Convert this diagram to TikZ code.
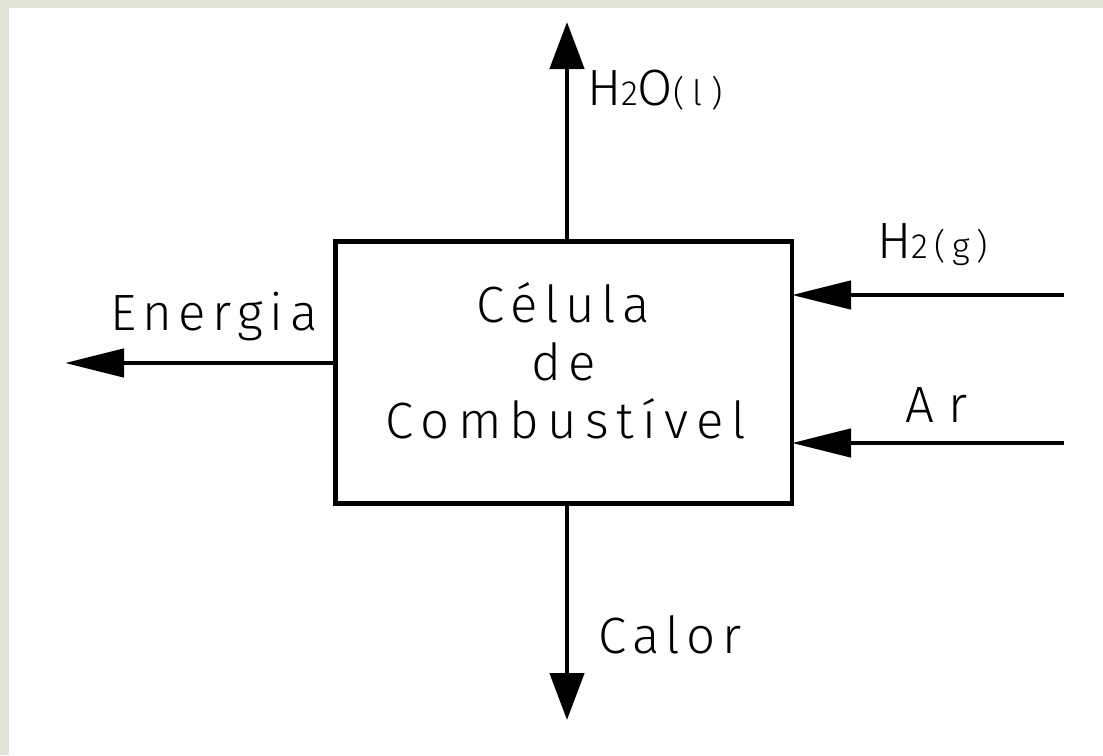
\documentclass[tikz,border=0pt]{standalone}
\usepackage{fontspec}
\setmainfont{Fira Sans Light}[LetterSpace=13]
\usetikzlibrary{arrows.meta}
\definecolor{framegrey}{HTML}{E2E3D7}
\newcommand{\lesser}[1]{{\fontsize{35}{35}\selectfont #1}}

\begin{document}
\begin{tikzpicture}[x=1pt,y=-1pt,
  flow/.style={line width=4.7pt,-{Triangle[length=59pt,width=28pt]}},
  vflow/.style={line width=4.7pt,-{Triangle[length=47pt,width=34pt]}},
  lbl/.style={inner sep=0pt,outer sep=0pt,font=\fontsize{51}{51}\selectfont},
  cellbox/.style={draw,line width=4.8pt,minimum width=456.5pt,minimum height=262pt,inner sep=0pt,outer sep=0pt}]

% canvas: grey strip on top and left, white sheet
\useasboundingbox (0,0) rectangle (1103,755);
\fill[framegrey] (0,0) rectangle (1103,755);
\fill[white] (9,8) rectangle (1103,755);

% fuel cell block
\node[cellbox] (cell) at (563.75,372.5) {};
\node[lbl,anchor=base] (t1) at (563,322) {Célula};
\node[lbl,anchor=base] (t2) at (563.5,380) {de};
\node[lbl,anchor=base] (t3) at (566,438) {\addfontfeature{LetterSpace=16}Combustível};

% flow end points
\coordinate (topend) at (567,22);
\coordinate (botend) at (567,720);
\coordinate (leftend) at (65,363);
\coordinate (h2src) at (1064,295);
\coordinate (arsrc) at (1064,443);

% flows
\draw[vflow] (cell.north -| topend) -- (topend);
\draw[vflow] (cell.south -| botend) -- (botend);
\draw[flow] (cell.west |- leftend) -- (leftend);
\draw[flow] (h2src) -- (cell.east |- h2src);
\draw[flow] (arsrc) -- (cell.east |- arsrc);

% labels
\node[lbl,anchor=base west] (water) at (587,105) {\addfontfeature{LetterSpace=24}H\lesser{2}O\lesser{(l)}};
\node[lbl,anchor=base west] (hydrogen) at (877,258) {\addfontfeature{LetterSpace=19}H\lesser{2(g)}};
\node[lbl,anchor=base west] (air) at (905,422) {\addfontfeature{LetterSpace=28}Ar};
\node[lbl,anchor=base west] (energy) at (110,330) {Energia};
\node[lbl,anchor=base west] (heat) at (598,653) {Calor};
\end{tikzpicture}
\end{document}
